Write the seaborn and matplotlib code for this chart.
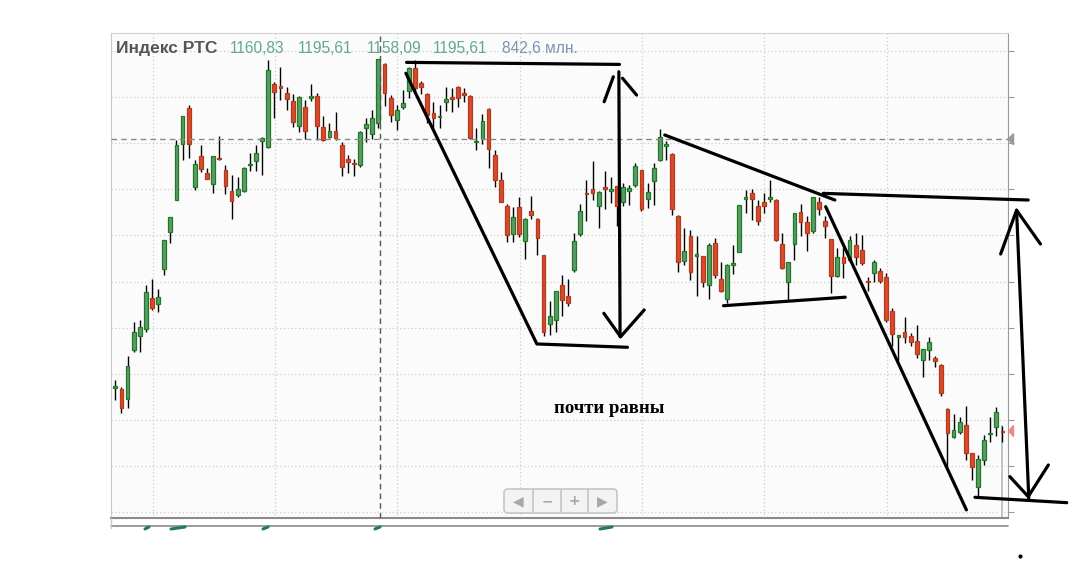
import numpy as np
import matplotlib
matplotlib.use("Agg")
import matplotlib.pyplot as plt
import seaborn as sns
from matplotlib.patches import FancyBboxPatch, Polygon
from matplotlib.lines import Line2D
from matplotlib.transforms import IdentityTransform

# daily candles of the RTS index
opens = [1017.5, 1016.7, 1011.3, 1037.8, 1045.4, 1049.5, 1066.2, 1062.7, 1081.7, 1101.9,
         1119.0, 1149.4, 1168.7, 1125.9, 1142.9, 1133.5, 1127.7, 1142.1, 1135.6, 1124.1,
         1121.7, 1124.1, 1137.9, 1140.3, 1151.2, 1148.0, 1181.7, 1180.4, 1177.2, 1172.7,
         1159.3, 1169.6, 1174.1, 1175.5, 1158.8, 1153.3, 1156.6, 1148.8, 1141.1, 1139.3,
         1138.0, 1157.9, 1154.6, 1160.83, 1192.5, 1174.1, 1162.4, 1169.6, 1178.1, 1190.3,
         1182.6, 1176.3, 1166.0, 1163.8, 1172.3, 1174.6, 1180.4, 1176.8, 1175.4, 1150.3,
         1152.1, 1168.3, 1143.4, 1130.2, 1116.0, 1100.5, 1115.1, 1096.8, 1113.1, 1108.8,
         1089.1, 1051.9, 1054.3, 1073.2, 1067.2, 1081.1, 1100.6, 1123.0, 1125.1, 1116.1,
         1126.2, 1124.2, 1126.5, 1117.9, 1123.8, 1127.4, 1135.2, 1119.9, 1129.2, 1141.0,
         1148.6, 1144.0, 1110.6, 1085.9, 1099.5, 1088.6, 1088.6, 1072.9, 1095.8, 1076.4,
         1065.6, 1084.0, 1091.2, 1119.8, 1122.8, 1116.0, 1118.3, 1119.8, 1118.9, 1095.2,
         1075.0, 1095.4, 1112.5, 1107.0, 1102.6, 1118.3, 1108.0, 1097.9, 1078.2, 1088.5,
         1086.7, 1094.5, 1092.1, 1075.5, 1079.5, 1080.8, 1077.7, 1059.3, 1045.1, 1047.6,
         1045.4, 1042.7, 1032.4, 1037.8, 1033.7, 1029.7, 1006.2, 990.8, 993.4, 997.5,
         982.1, 963.7, 978.5, 992.3, 996.2, 994.3]
highs = [1021.6, 1018.0, 1034.7, 1053.2, 1054.1, 1073.0, 1076.1, 1071.2, 1097.7, 1110.0,
         1151.5, 1164.5, 1170.5, 1140.7, 1148.8, 1136.2, 1142.9, 1153.9, 1138.0, 1132.9,
         1131.7, 1137.1, 1144.3, 1148.8, 1153.0, 1194.9, 1183.1, 1190.9, 1180.1, 1176.3,
         1175.5, 1173.2, 1181.7, 1176.8, 1164.7, 1160.6, 1166.9, 1150.6, 1143.4, 1141.1,
         1156.5, 1163.6, 1167.8, 1195.61, 1193.0, 1175.9, 1170.5, 1178.6, 1191.0, 1194.9,
         1183.5, 1176.8, 1172.3, 1170.5, 1180.4, 1179.5, 1180.8, 1179.9, 1175.9, 1158.2,
         1165.4, 1169.0, 1146.1, 1134.4, 1116.7, 1115.1, 1120.8, 1109.3, 1121.4, 1109.5,
         1089.6, 1064.3, 1069.7, 1078.6, 1076.3, 1101.5, 1116.9, 1129.7, 1140.1, 1124.0,
         1134.7, 1131.6, 1126.8, 1128.3, 1127.4, 1139.2, 1135.6, 1128.3, 1139.2, 1157.6,
         1150.9, 1144.3, 1111.0, 1104.0, 1102.7, 1099.5, 1089.0, 1095.8, 1098.6, 1085.4,
         1084.4, 1094.5, 1116.5, 1124.6, 1125.0, 1119.2, 1122.8, 1130.1, 1119.5, 1101.5,
         1085.8, 1112.0, 1116.9, 1110.6, 1121.0, 1121.0, 1110.2, 1098.2, 1093.0, 1093.0,
         1099.4, 1101.2, 1100.3, 1077.7, 1086.7, 1082.2, 1079.5, 1060.8, 1046.3, 1055.9,
         1047.2, 1051.2, 1038.7, 1045.1, 1034.6, 1030.6, 1006.6, 1003.5, 1001.7, 1007.5,
         982.4, 981.2, 992.1, 1001.7, 1007.1, 997.0]
lows = [1010.7, 1003.9, 1006.8, 1036.6, 1036.9, 1047.4, 1059.5, 1058.6, 1078.4, 1095.6,
        1119.0, 1140.7, 1141.6, 1124.5, 1134.0, 1130.4, 1122.7, 1140.7, 1122.3, 1108.6,
        1120.8, 1123.6, 1134.7, 1134.7, 1132.6, 1147.1, 1163.6, 1173.2, 1167.8, 1158.8,
        1156.0, 1151.9, 1172.7, 1151.5, 1151.0, 1152.4, 1151.5, 1132.2, 1133.5, 1132.0,
        1137.1, 1150.6, 1152.1, 1158.09, 1170.1, 1161.5, 1157.0, 1168.1, 1174.5, 1177.7,
        1176.3, 1160.6, 1157.9, 1157.9, 1167.4, 1166.9, 1169.6, 1172.3, 1152.1, 1146.1,
        1149.4, 1136.2, 1126.3, 1117.8, 1096.5, 1096.5, 1099.2, 1087.1, 1109.1, 1089.6,
        1045.6, 1045.9, 1047.7, 1056.4, 1061.5, 1080.2, 1099.7, 1107.9, 1119.0, 1104.0,
        1114.3, 1117.5, 1105.2, 1115.7, 1116.6, 1126.2, 1113.0, 1114.8, 1116.6, 1140.1,
        1141.0, 1111.2, 1080.0, 1084.1, 1076.0, 1067.0, 1072.0, 1065.7, 1076.9, 1069.3,
        1063.3, 1079.2, 1090.7, 1112.0, 1108.4, 1105.7, 1112.0, 1117.8, 1096.7, 1081.7,
        1065.1, 1086.7, 1099.4, 1091.6, 1101.5, 1111.1, 1098.5, 1068.7, 1077.7, 1076.8,
        1085.8, 1084.0, 1084.0, 1069.6, 1075.0, 1074.1, 1053.3, 1040.0, 1031.9, 1041.5,
        1040.0, 1033.7, 1023.4, 1032.4, 1028.8, 1013.2, 974.9, 990.3, 992.6, 978.5,
        967.7, 959.0, 975.8, 987.9, 991.2, 987.9]
closes = [1018.0, 1006.8, 1029.2, 1047.7, 1050.5, 1069.4, 1060.9, 1066.7, 1097.7, 1110.0,
          1148.8, 1164.5, 1149.4, 1138.4, 1135.8, 1130.4, 1142.9, 1141.2, 1126.8, 1118.7,
          1125.0, 1136.2, 1138.4, 1144.3, 1152.4, 1189.4, 1177.7, 1179.9, 1173.6, 1161.5,
          1175.0, 1156.6, 1175.5, 1159.3, 1151.5, 1156.6, 1152.8, 1137.1, 1139.8, 1138.4,
          1155.7, 1160.0, 1163.6, 1195.61, 1176.8, 1165.1, 1167.8, 1171.4, 1190.3, 1179.5,
          1180.4, 1165.1, 1163.6, 1164.5, 1173.7, 1173.7, 1174.1, 1175.9, 1152.8, 1151.0,
          1161.8, 1146.7, 1129.9, 1118.1, 1100.1, 1109.7, 1100.5, 1108.8, 1110.9, 1098.3,
          1047.7, 1056.2, 1069.6, 1065.1, 1063.6, 1097.0, 1112.9, 1122.2, 1122.9, 1123.3,
          1125.3, 1125.1, 1115.7, 1126.2, 1125.6, 1137.4, 1114.4, 1123.3, 1136.5, 1153.2,
          1149.6, 1114.4, 1085.4, 1091.3, 1080.0, 1089.9, 1074.5, 1094.6, 1078.3, 1070.0,
          1083.7, 1084.9, 1116.5, 1121.0, 1119.8, 1108.0, 1115.6, 1120.5, 1097.6, 1082.2,
          1085.8, 1112.0, 1107.0, 1101.2, 1120.5, 1114.2, 1105.1, 1078.1, 1088.0, 1084.9,
          1097.2, 1088.5, 1084.9, 1074.5, 1085.8, 1075.5, 1054.2, 1046.7, 1046.3, 1045.1,
          1042.4, 1035.5, 1038.7, 1042.2, 1032.2, 1014.7, 993.0, 994.8, 998.8, 982.1,
          974.5, 978.9, 989.4, 993.0, 1004.2, 993.4]

title = "Индекс РТС"
header_values = ["1160,83", "1195,61", "1158,09", "1195,61"]
volume_label = "842,6 млн."
note = "почти равны"

price_grid = [950, 975, 1000, 1025, 1050, 1075, 1100, 1125, 1150, 1175, 1200]
month_breaks = [6.1, 26.1, 46.1, 66.1, 86.1, 106.1, 126.1]
cursor_index = 43.3
cursor_price = 1152.0
last_price = 994.1

# hand drawn pen strokes, (candle index, price)
pen_strokes = [
    [(47.6, 1193.6), (82.4, 1192.5)],
    [(47.5, 1187.7), (68.9, 1041.2), (83.7, 1039.4)],
    [(82.3, 1188.5), (82.5, 1045.1)],
    [(79.9, 1172.3), (81.4, 1185.8)],
    [(82.9, 1185.0), (85.2, 1175.9)],
    [(79.85, 1057.8), (82.58, 1045.1), (86.44, 1059.6)],
    [(89.8, 1154.3), (117.6, 1119.1)],
    [(115.7, 1122.7), (149.2, 1119.1)],
    [(99.4, 1061.9), (119.3, 1066.5)],
    [(116.1, 1115.5), (139.1, 951.4)],
    [(140.5, 958.2), (155.5, 955.3)],
    [(147.3, 1113.6), (149.3, 957.7)],
    [(144.7, 1089.9), (147.3, 1113.6), (151.2, 1095.3)],
    [(146.2, 969.4), (149.2, 958.6), (152.5, 975.7)],
]
note_pos = (80.7, 1006.4)

W, H = 1075, 576
sns.set_style("white")
plt.rcParams['font.family'] = ['Liberation Sans', 'DejaVu Sans']

fig = plt.figure(figsize=(W / 100, H / 100), dpi=100)
ax_l, ax_r, ax_t, ax_b = 110.7, 1008.0, 33.0, 518.0
ax = fig.add_axes([ax_l / W, 1 - ax_b / H, (ax_r - ax_l) / W, (ax_b - ax_t) / H])
ax.set_facecolor('#fbfbfb')

o = np.array(opens)
hi = np.array(highs)
lo = np.array(lows)
c = np.array(closes)
idx = np.arange(len(o))
up = c >= o
bottom = np.minimum(o, c)
height = np.maximum(np.abs(c - o), 0.9)

ax.vlines(idx, lo, hi, color='black', lw=1.0, zorder=3)
ax.bar(idx[up], height[up], bottom=bottom[up], width=0.62, color='#5c9b6c',
       edgecolor='#1f7a22', linewidth=0.9, zorder=4)
ax.bar(idx[~up], height[~up], bottom=bottom[~up], width=0.62, color='#d94b2c',
       edgecolor='#b43b1f', linewidth=0.9, zorder=4)

# last candle highlight bar
ax.bar([idx[-1] - 0.1], [997.9 - 947.0], bottom=947.0, width=0.5, color='#a9b6c2', zorder=2)

ax.set_xlim(-0.75, 145.9)
ax.set_ylim(947.0, 1209.5)
ax.set_yticks(price_grid)
ax.set_xticks(month_breaks)
ax.grid(True, linestyle=(0, (1, 2)), color='#cccccc', lw=0.9)
ax.tick_params(axis='x', length=0, labelbottom=False)
ax.tick_params(axis='y', left=False, right=True, length=4, color='#999999',
               labelleft=False, labelright=False)

ax.axvline(cursor_index, color='#555555', ls=(0, (4, 3)), lw=1.0, zorder=5)
ax.axhline(cursor_price, color='#888888', ls=(0, (4, 3)), lw=1.0, zorder=5)

for side, col in [('left', '#c8c8c8'), ('top', '#d4d4d4'), ('right', '#9a9a9a'), ('bottom', '#8a8a8a')]:
    ax.spines[side].set_color(col)
ax.spines['bottom'].set_linewidth(1.5)

# price markers on the right axis
ax.add_patch(Polygon([(146.0, last_price), (146.8, last_price + 3), (146.8, last_price - 3)],
                     closed=True, color='#ee8a84', clip_on=False, zorder=6))
ax.add_patch(Polygon([(145.9, cursor_price), (146.8, cursor_price + 3), (146.8, cursor_price - 3)],
                     closed=True, color='#9a9a9a', clip_on=False, zorder=6))

for stroke in pen_strokes:
    xs, ys = zip(*stroke)
    ax.plot(xs, ys, color='black', lw=2.3, solid_capstyle='round',
            solid_joinstyle='round', clip_on=False, zorder=7)
ax.plot([147.8], [926.5], 'o', color='black', ms=2, clip_on=False)

ax.text(note_pos[0], note_pos[1], note, ha='center', va='center', fontsize=13.5,
        fontweight='bold', family=['Liberation Serif'], color='black', zorder=8)

# header
ident = IdentityTransform()
fig.text(116, H - 48.5, title, transform=ident, fontsize=12.5, fontweight='bold',
         color='#555555', va='center', zorder=9)
for xpos, val in zip([230, 297.7, 366.7, 433.3], header_values):
    fig.text(xpos, H - 48.5, val, transform=ident, fontsize=11.2, color='#63a88f',
             va='center', zorder=9)
fig.text(501.7, H - 48.5, volume_label, transform=ident, fontsize=11.2, color='#7d93b3',
         va='center', zorder=9)

# navigator strip under the plot
fig.add_artist(Line2D([ax_l, ax_r], [H - 526, H - 526], transform=ident, color='#8a8a8a', lw=1.2))
fig.add_artist(Line2D([ax_l, ax_l], [H - 518, H - 528], transform=ident, color='#c8c8c8', lw=1))
for x0, x1 in [(145, 149), (171, 185), (263, 268), (375, 380), (600, 612)]:
    fig.add_artist(Line2D([x0, x1], [H - 529, H - 527], transform=ident, color='#1d7a68', lw=2.2))

# zoom / scroll buttons
box = FancyBboxPatch((504, H - 513), 113, 24, boxstyle='round,pad=0,rounding_size=4',
                     transform=ident, facecolor='#f3f3f3', edgecolor='#c6c6c6', lw=1.2, zorder=9)
fig.add_artist(box)
for xd in [533, 561, 588]:
    fig.add_artist(Line2D([xd, xd], [H - 513, H - 489], transform=ident, color='#c6c6c6', lw=1.2, zorder=10))
for xs_, sym in zip([518.5, 547, 574.5, 602.5], ['◀', '−', '+', '▶']):
    fig.text(xs_, H - 501, sym, transform=ident, ha='center', va='center', fontsize=10,
             color='#a8a8a8', family=['DejaVu Sans'], fontweight='bold', zorder=11)

fig.savefig('out.png', dpi=100)
